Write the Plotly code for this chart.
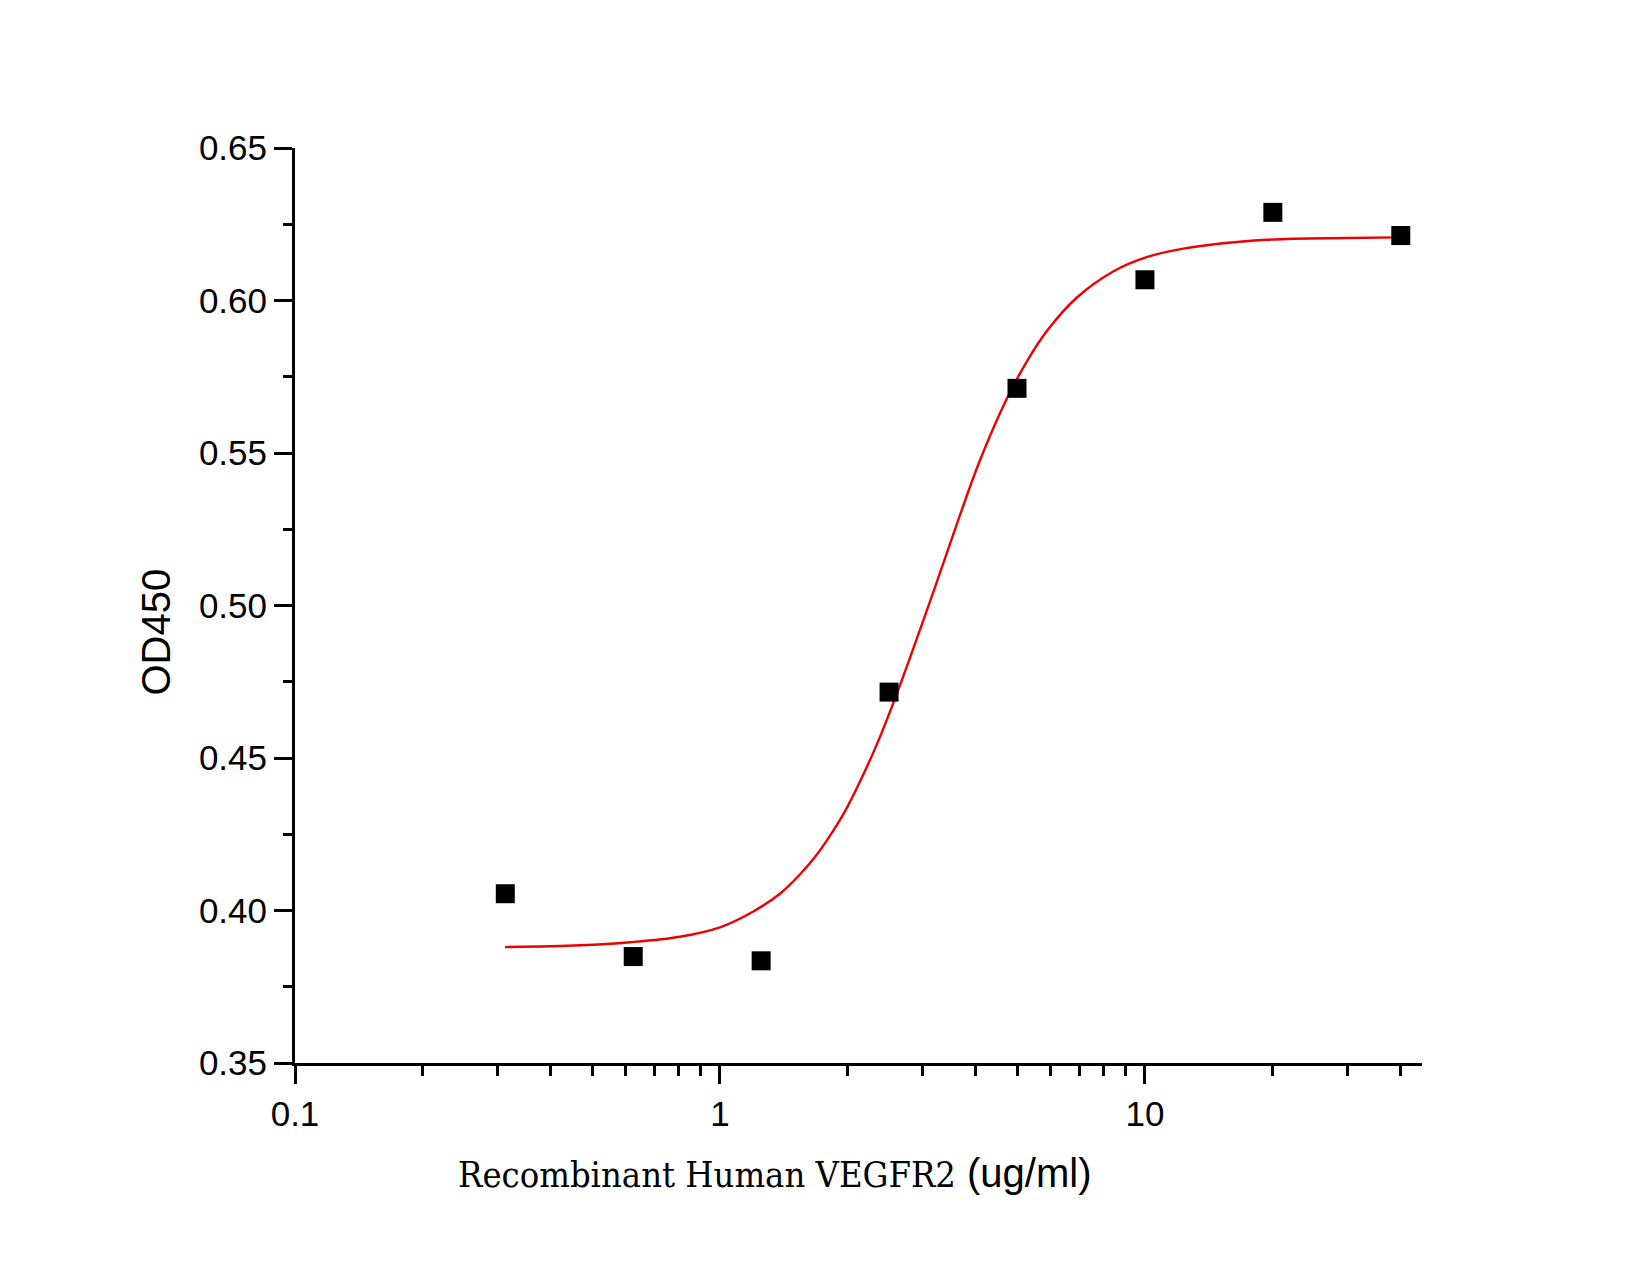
import plotly.graph_objects as go

# Measured data points
conc = [0.3125, 0.625, 1.25, 2.5, 5, 10, 20, 40]
od450 = [0.4055, 0.3849, 0.3835, 0.4716, 0.5712, 0.6068, 0.6289, 0.6213]

# Fitted curve
curve_x = [0.312, 0.4685, 0.614, 0.805, 1.0, 1.198, 1.384, 1.542, 1.70, 1.848, 1.95, 2.097,
           2.337, 2.558, 2.801, 3.236, 3.670, 4.091, 4.727, 5.268, 5.871, 6.908,
           8.42, 10.09, 12.31, 19.33, 29.84, 39.8]
curve_y = [0.388, 0.3886, 0.3896, 0.3914, 0.3945, 0.3997, 0.4055, 0.4118, 0.4188, 0.4262, 0.4315, 0.4400,
           0.4543, 0.4680, 0.4829, 0.5076, 0.5296, 0.5476, 0.5677, 0.5799, 0.5899, 0.6009,
           0.6095, 0.6142, 0.6170, 0.6199, 0.6205, 0.6207]

x_tickvals = [0.1, 1, 10]
x_ticktext = ["0.1", "1", "10"]
x_minor = [0.2, 0.3, 0.4, 0.5, 0.6, 0.7, 0.8, 0.9, 2, 3, 4, 5, 6, 7, 8, 9, 20, 30, 40]
y_tickvals = [0.35, 0.40, 0.45, 0.50, 0.55, 0.60, 0.65]
y_minor = [0.375, 0.425, 0.475, 0.525, 0.575, 0.625]

fig = go.Figure()
fig.add_trace(go.Scatter(x=curve_x, y=curve_y, mode="lines",
                         line=dict(color="#ee0000", width=2.4, shape="spline", smoothing=1.0),
                         showlegend=False, hoverinfo="skip"))
fig.add_trace(go.Scatter(x=conc, y=od450, mode="markers",
                         marker=dict(symbol="square", size=19, color="black",
                                     line=dict(width=0)),
                         showlegend=False))

tickfont = dict(family="Arial, Liberation Sans, sans-serif", size=35, color="black")

fig.update_layout(
    width=1650, height=1275,
    margin=dict(l=295, r=228, t=148, b=212),
    paper_bgcolor="white", plot_bgcolor="white",
    xaxis=dict(type="log", range=[-1, 1.652],
               tickmode="array", tickvals=x_tickvals, ticktext=x_ticktext,
               ticks="outside", ticklen=18, tickwidth=3, tickcolor="black",
               showline=True, linewidth=3, linecolor="black",
               showgrid=False, zeroline=False, tickfont=tickfont,
               minor=dict(tickmode="array", tickvals=x_minor, ticks="outside",
                          ticklen=10, tickwidth=3, tickcolor="black", showgrid=False)),
    yaxis=dict(range=[0.35, 0.65],
               tickmode="array", tickvals=y_tickvals, tickformat=".2f",
               ticks="outside", ticklen=18, tickwidth=3, tickcolor="black",
               showline=True, linewidth=3, linecolor="black",
               showgrid=False, zeroline=False, tickfont=tickfont,
               minor=dict(tickmode="array", tickvals=y_minor, ticks="outside",
                          ticklen=9, tickwidth=3, tickcolor="black", showgrid=False)),
    annotations=[
        dict(text="OD450", textangle=-90, xref="paper", yref="paper",
             x=-0.1233, y=0.4705, showarrow=False, xanchor="center", yanchor="middle",
             font=dict(family="Arial, Liberation Sans, sans-serif", size=40, color="black")),
        dict(text='<span style="font-family:\'DejaVu Serif Condensed\', \'DejaVu Serif\', serif; font-size:36px">Recombinant Human VEGFR2</span> (ug/ml)',
             xref="paper", yref="paper", x=0.426, y=-0.120, showarrow=False,
             xanchor="center", yanchor="middle",
             font=dict(family="Arial, Liberation Sans, sans-serif", size=40, color="black")),
    ],
)

fig.write_html("out.html")
